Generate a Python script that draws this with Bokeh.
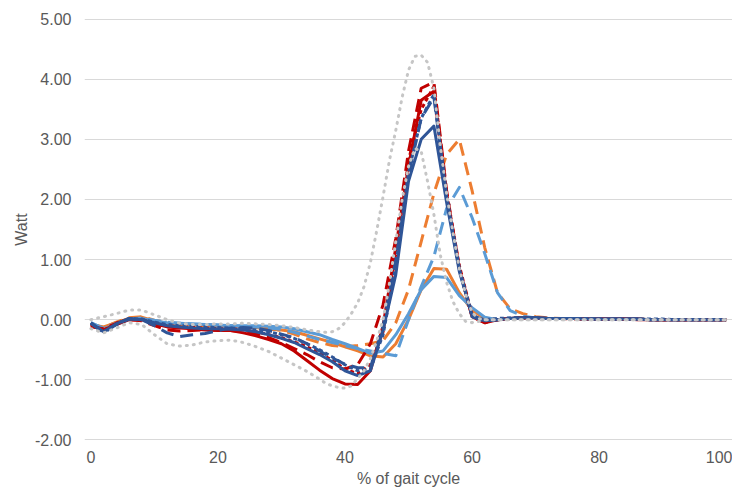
from bokeh.plotting import figure
from bokeh.models import FixedTicker, NumeralTickFormatter, Range1d
from bokeh.embed import file_html
from bokeh.resources import INLINE

# ---------------- data ----------------
X = list(range(0, 101, 2))
XG = list(range(0, 37, 2)) + list(range(37, 63)) + list(range(64, 101, 2))

X_TICKS = [0, 20, 40, 60, 80, 100]
Y_TICKS = [-2, -1, 0, 1, 2, 3, 4, 5]

TAIL0 = [0.00, 0.02, 0.03, 0.03, 0.02, 0.02, 0.02, 0.01, 0.01, 0.01,
         0.01, 0.01, 0.00, 0.00, 0.00, 0.00, 0.00, 0.00, 0.00]

red_solid = [-0.10, -0.17, -0.08, 0.00, 0.00, -0.07, -0.12, -0.14, -0.15, -0.17,
             -0.18, -0.18, -0.22, -0.27, -0.33, -0.40, -0.52, -0.68, -0.84, -0.98,
             -1.07, -1.08, -0.85, -0.10, 1.20, 2.55, 3.65, 3.80, 2.05, 0.85,
             0.05, -0.05] + TAIL0
red_dashed = [-0.12, -0.15, -0.06, 0.00, -0.02, -0.10, -0.17, -0.19, -0.18, -0.17,
              -0.17, -0.18, -0.20, -0.24, -0.30, -0.38, -0.48, -0.58, -0.70, -0.80,
              -0.82, -0.75, -0.40, 0.25, 1.35, 2.80, 3.85, 3.95, 2.15, 0.85,
              0.05, -0.05] + [0.00, 0.02, 0.03, 0.02, 0.02, 0.02, 0.01, 0.01, 0.01, 0.01,
                              0.01, 0.00, 0.00, 0.00, 0.00, 0.00, 0.00, 0.00, 0.00]
red_dotted = [-0.08, -0.18, -0.06, 0.01, 0.00, -0.06, -0.10, -0.12, -0.13, -0.14,
              -0.15, -0.15, -0.17, -0.20, -0.25, -0.30, -0.37, -0.45, -0.55, -0.68,
              -0.82, -0.90, -0.75, -0.20, 1.10, 2.65, 3.50, 3.88, 2.10, 0.90,
              0.08, -0.04] + TAIL0
dblue_solid = [-0.05, -0.20, -0.07, 0.02, 0.00, -0.05, -0.10, -0.12, -0.14, -0.15,
               -0.15, -0.16, -0.17, -0.20, -0.25, -0.31, -0.38, -0.48, -0.58, -0.70,
               -0.85, -0.93, -0.85, -0.17, 0.75, 2.30, 3.00, 3.22, 1.95, 0.80,
               0.08, -0.02] + TAIL0
dblue_dashed = [-0.06, -0.22, -0.08, 0.01, 0.00, -0.10, -0.22, -0.28, -0.25, -0.23,
                -0.18, -0.14, -0.13, -0.14, -0.18, -0.24, -0.30, -0.40, -0.52, -0.64,
                -0.74, -0.80, -0.80, -0.10, 1.00, 2.40, 3.35, 3.70, 2.05, 0.85,
                0.05, -0.03] + TAIL0
dblue_dotted = [-0.06, -0.20, -0.08, 0.02, 0.01, -0.04, -0.08, -0.10, -0.11, -0.12,
                -0.13, -0.14, -0.15, -0.17, -0.20, -0.25, -0.31, -0.40, -0.50, -0.62,
                -0.75, -0.85, -0.82, -0.25, 0.90, 2.45, 3.35, 3.75, 2.05, 0.85,
                0.05, 0.00] + [0.02, 0.03, 0.03, 0.03, 0.02, 0.02, 0.02, 0.02, 0.01, 0.01,
                               0.01, 0.01, 0.01, 0.01, 0.00, 0.00, 0.00, 0.00, 0.00]
orange_solid = [-0.08, -0.12, -0.05, 0.02, 0.04, -0.02, -0.06, -0.08, -0.09, -0.10,
                -0.10, -0.11, -0.12, -0.13, -0.15, -0.17, -0.20, -0.26, -0.32, -0.38,
                -0.45, -0.52, -0.60, -0.62, -0.40, 0.00, 0.50, 0.85, 0.84, 0.45,
                0.15, 0.03] + TAIL0
orange_dashed = [-0.07, -0.13, -0.04, 0.03, 0.05, -0.01, -0.05, -0.07, -0.08, -0.09,
                 -0.10, -0.11, -0.12, -0.13, -0.15, -0.18, -0.24, -0.32, -0.38, -0.43,
                 -0.45, -0.43, -0.40, -0.35, -0.05, 0.50, 1.30, 2.10, 2.75, 3.00,
                 2.15, 1.20, 0.45, 0.18, 0.10, 0.05, 0.03, 0.02, 0.02, 0.02,
                 0.01, 0.01, 0.01, 0.01, 0.00, 0.00, 0.00, 0.00, 0.00, 0.00, 0.00]
lblue_solid = [-0.05, -0.15, -0.08, 0.00, 0.02, -0.02, -0.05, -0.06, -0.07, -0.08,
               -0.09, -0.10, -0.10, -0.10, -0.11, -0.12, -0.15, -0.20, -0.25, -0.33,
               -0.40, -0.48, -0.56, -0.52, -0.25, 0.10, 0.50, 0.72, 0.70, 0.40,
               0.20, 0.04] + TAIL0
lblue_dashed = [-0.06, -0.14, -0.06, 0.01, 0.03, -0.01, -0.04, -0.06, -0.07, -0.08,
                -0.09, -0.10, -0.11, -0.12, -0.14, -0.16, -0.21, -0.27, -0.33, -0.38,
                -0.43, -0.48, -0.52, -0.56, -0.60, 0.00, 0.55, 1.05, 1.85, 2.20,
                1.70, 1.10, 0.45, 0.15, 0.06, 0.03, 0.02, 0.02, 0.02, 0.01,
                0.01, 0.01, 0.01, 0.01, 0.00, 0.00, 0.00, 0.00, 0.00, 0.00, 0.00]

GTAIL = [0.00] * 19
gray_upper = [0.00, 0.05, 0.10, 0.16, 0.16, 0.08, 0.00, -0.06, -0.08, -0.08,
              -0.07, -0.07, -0.06, -0.07, -0.08, -0.10, -0.13, -0.17, -0.20] + \
             [-0.21, -0.20, -0.15, -0.05, 0.10, 0.28, 0.55, 0.95, 1.48, 2.05,
              2.65, 3.15, 3.70, 4.15, 4.38, 4.40, 4.28, 3.85, 2.90, 2.10,
              1.45, 0.85, 0.42, 0.12, 0.02, 0.00] + GTAIL
gray_lower = [-0.15, -0.22, -0.14, -0.05, -0.08, -0.25, -0.40, -0.44, -0.42, -0.37,
              -0.35, -0.34, -0.38, -0.45, -0.53, -0.64, -0.75, -0.86, -0.99] + \
             [-1.06, -1.10, -1.13, -1.14, -1.10, -0.98, -0.85, -0.65, -0.35, 0.00,
              0.60, 1.30, 2.00, 2.55, 2.85, 2.80, 2.30, 1.75, 1.08, 0.62,
              0.30, 0.10, -0.03, -0.05, -0.03, 0.00] + GTAIL

RED = "#C00000"
DBLUE = "#2F5597"
LBLUE = "#5B9BD5"
ORANGE = "#ED7D31"
GRAY = "#C6C6C6"

SERIES = [
    (X, orange_solid, ORANGE, "solid"),
    (X, orange_dashed, ORANGE, "13 7"),
    (X, lblue_solid, LBLUE, "solid"),
    (X, lblue_dashed, LBLUE, "13 7"),
    (X, red_solid, RED, "solid"),
    (X, red_dashed, RED, "13 7"),
    (X, red_dotted, RED, "4 3"),
    (X, dblue_solid, DBLUE, "solid"),
    (X, dblue_dashed, DBLUE, "13 7"),
    (X, dblue_dotted, DBLUE, "4 3"),
]

# ---------------- figure ----------------
p = figure(width=732, height=490, output_backend="svg", toolbar_location=None,
           x_range=Range1d(-1, 101), y_range=Range1d(-2.01, 5.01),
           min_border_left=84, min_border_right=0, min_border_top=18,
           min_border_bottom=50)
p.outline_line_color = None
p.background_fill_color = "white"

for xs, ys, col, dash in SERIES:
    p.line(xs, ys, line_color=col, line_width=3, line_dash=dash, line_join="round")

p.line(XG, gray_upper, line_color=GRAY, line_width=3, line_dash="1 6", line_cap="round")
p.line(XG, gray_lower, line_color=GRAY, line_width=3, line_dash="1 6", line_cap="round")

p.xaxis.ticker = FixedTicker(ticks=X_TICKS)
p.yaxis.ticker = FixedTicker(ticks=Y_TICKS)
p.yaxis.formatter = NumeralTickFormatter(format="0.00")
p.ygrid.ticker = FixedTicker(ticks=Y_TICKS)
p.xgrid.grid_line_color = None
p.ygrid.grid_line_color = "#D9D9D9"
p.ygrid.grid_line_width = 1

for ax in (p.xaxis[0], p.yaxis[0]):
    ax.axis_line_color = None
    ax.major_tick_line_color = None
    ax.minor_tick_line_color = None
    ax.major_tick_in = 0
    ax.major_tick_out = 0
    ax.minor_tick_in = 0
    ax.minor_tick_out = 0
    ax.major_label_text_font = "Liberation Sans"
    ax.major_label_text_font_size = "16px"
    ax.major_label_text_color = "#595959"
    ax.axis_label_text_font = "Liberation Sans"
    ax.axis_label_text_font_size = "16px"
    ax.axis_label_text_font_style = "normal"
    ax.axis_label_text_color = "#595959"

p.xaxis.axis_label = "% of gait cycle"
p.yaxis.axis_label = "Watt"
p.xaxis.major_label_standoff = 10
p.yaxis.major_label_standoff = 13
p.xaxis.axis_label_standoff = 4
p.yaxis.axis_label_standoff = 2

open("out.html", "w").write(file_html(p, INLINE))
